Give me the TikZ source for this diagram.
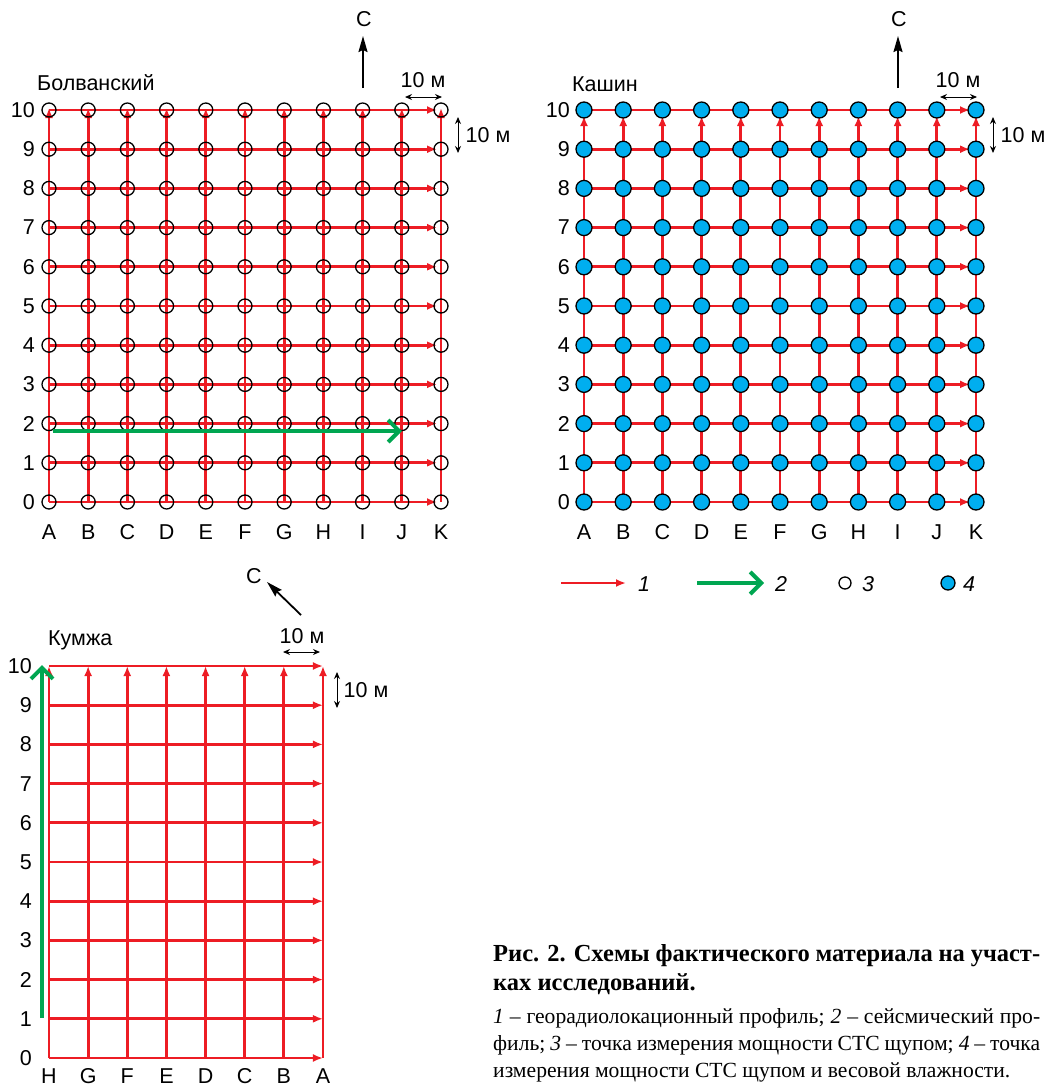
\documentclass[tikz,border=0pt]{standalone}
\usepackage{fontspec}
\setmainfont{Liberation Sans}
\newfontfamily\capfont{Liberation Serif}
\usetikzlibrary{arrows.meta}
\definecolor{gridred}{HTML}{ED1C24}
\definecolor{seisgreen}{HTML}{00A651}
\definecolor{dotblue}{HTML}{00AEEF}
\tikzset{
  redline/.style={draw=gridred, line width=2.8pt, -{Latex[length=10pt,width=8pt]}},
  hollowpt/.style={circle, draw=black, line width=1.3pt, minimum size=14pt, inner sep=0pt},
  bluept/.style={circle, draw=black, fill=dotblue, line width=1.3pt, minimum size=16pt, inner sep=0pt},
  lbl/.style={font=\fontsize{21.5}{24}\selectfont, inner sep=0pt},
  greenarrow/.style={draw=seisgreen, line width=4pt, -{Straight Barb[length=11pt,width=22pt]}},
  northarrow/.style={draw=black, line width=1.8pt, -{Stealth[length=16pt,width=9pt,inset=2pt]}},
  scalebar/.style={draw=black, line width=1pt, {Stealth[length=7pt,width=6pt]}-{Stealth[length=7pt,width=6pt]}},
  capbold/.style={font=\capfont\bfseries\fontsize{24.5}{28}\selectfont, inner sep=0pt, anchor=base west},
  capreg/.style={font=\capfont\fontsize{21.6}{26}\selectfont, inner sep=0pt, anchor=base west}
}
\begin{document}
\begin{tikzpicture}[x=1pt,y=-1pt]
\useasboundingbox (0,0) rectangle (1048,1087);

% ================= Bolvansky =================
\foreach \i in {0,...,10}{
  \foreach \j in {0,...,10}{
    \coordinate (b-\i-\j) at ({49+39.2*\i},{502-39.2*\j});
  }
}
\foreach \j in {0,...,10}{
  \draw[redline, shorten >=4pt] (b-0-\j) -- (b-10-\j);
}
\foreach \i in {0,...,10}{
  \draw[redline, shorten >=-2pt] (b-\i-0) -- (b-\i-10);
}
\foreach \i in {0,...,10}{
  \foreach \j in {0,...,10}{
    \node[hollowpt] (bp-\i-\j) at (b-\i-\j) {};
  }
}
\foreach \j in {0,...,10}{
  \node[lbl, anchor=east] (brow-\j) at (35,{502-39.2*\j}) {\j};
}
\foreach \l [count=\c from 0] in {A,B,C,D,E,F,G,H,I,J,K}{
  \node[lbl] (bcol-\c) at ({49+39.2*\c},532) {\l};
}
\node[lbl, anchor=west] (bname) at (37,83) {Болванский};
\coordinate (bgs) at (53,431);
\coordinate (bge) at (402,431);
\draw[greenarrow] (bgs) -- (bge);
% north
\coordinate (bn1) at (363,88);
\coordinate (bn2) at (363,36);
\draw[northarrow] (bn1) -- (bn2);
\node[lbl] (bnC) at (364,19) {С};
% scale bars
\coordinate (bs1) at (405,97); \coordinate (bs2) at (442,97);
\draw[scalebar] (bs1) -- (bs2);
\node[lbl] (bsh) at (423,80) {10 м};
\coordinate (bs3) at (458,117); \coordinate (bs4) at (458,153);
\draw[scalebar] (bs3) -- (bs4);
\node[lbl] (bsv) at (488,135) {10 м};

% ================= Kashin =================
\foreach \i in {0,...,10}{
  \foreach \j in {0,...,10}{
    \coordinate (k-\i-\j) at ({584+39.2*\i},{502-39.2*\j});
  }
}
\foreach \j in {0,...,10}{
  \draw[redline, shorten >=6pt] (k-0-\j) -- (k-10-\j);
}
\foreach \i in {0,...,10}{
  \draw[redline, shorten >=6pt] (k-\i-0) -- (k-\i-10);
}
\foreach \i in {0,...,10}{
  \foreach \j in {0,...,10}{
    \node[bluept] (kp-\i-\j) at (k-\i-\j) {};
  }
}
\foreach \j in {0,...,10}{
  \node[lbl, anchor=east] (krow-\j) at (570,{502-39.2*\j}) {\j};
}
\foreach \l [count=\c from 0] in {A,B,C,D,E,F,G,H,I,J,K}{
  \node[lbl] (kcol-\c) at ({584+39.2*\c},532) {\l};
}
\node[lbl, anchor=west] (kname) at (572,84) {Кашин};
\coordinate (kn1) at (898,88);
\coordinate (kn2) at (898,36);
\draw[northarrow] (kn1) -- (kn2);
\node[lbl] (knC) at (899,19) {С};
\coordinate (ks1) at (940,97); \coordinate (ks2) at (977,97);
\draw[scalebar] (ks1) -- (ks2);
\node[lbl] (ksh) at (958,80) {10 м};
\coordinate (ks3) at (993,117); \coordinate (ks4) at (993,153);
\draw[scalebar] (ks3) -- (ks4);
\node[lbl] (ksv) at (1023,135) {10 м};

% ================= Legend =================
\coordinate (l1a) at (561,583); \coordinate (l1b) at (626,583);
\draw[redline, line width=2pt] (l1a) -- (l1b);
\node[lbl, font=\fontsize{21.5}{24}\selectfont\itshape] (l1t) at (644,584) {1};
\coordinate (l2a) at (697,583); \coordinate (l2b) at (764,583);
\draw[greenarrow] (l2a) -- (l2b);
\node[lbl, font=\fontsize{21.5}{24}\selectfont\itshape] (l2t) at (781,584) {2};
\node[hollowpt, minimum size=12pt] (l3c) at (845,583) {};
\node[lbl, font=\fontsize{21.5}{24}\selectfont\itshape] (l3t) at (868,584) {3};
\node[bluept, minimum size=14pt] (l4c) at (948,583) {};
\node[lbl, font=\fontsize{21.5}{24}\selectfont\itshape] (l4t) at (969,584) {4};

% ================= Kumzha =================
\foreach \i in {0,...,7}{
  \foreach \j in {0,...,10}{
    \coordinate (m-\i-\j) at ({49+39.14*\i},{1058-39.2*\j});
  }
}
\foreach \j in {0,...,10}{
  \draw[redline] (m-0-\j) -- (m-7-\j);
}
\foreach \i in {0,...,7}{
  \draw[redline] (m-\i-0) -- (m-\i-10);
}
\foreach \j in {0,...,10}{
  \node[lbl, anchor=east] (mrow-\j) at (32,{1058-39.2*\j}) {\j};
}
\foreach \l [count=\c from 0] in {H,G,F,E,D,C,B,A}{
  \node[lbl, anchor=base] (mcol-\c) at ({49+39.14*\c},1083) {\l};
}
\node[lbl, anchor=west] (mname) at (48,640) {Кумжа};
\coordinate (mgs) at (42,1018);
\coordinate (mge) at (42,665);
\draw[greenarrow] (mgs) -- (mge);
\coordinate (mn1) at (301,615);
\coordinate (mn2) at (267,582);
\draw[northarrow] (mn1) -- (mn2);
\node[lbl] (mnC) at (254,576) {С};
\coordinate (ms1) at (283,652); \coordinate (ms2) at (320,652);
\draw[scalebar] (ms1) -- (ms2);
\node[lbl] (msh) at (302,636) {10 м};
\coordinate (ms3) at (337,672); \coordinate (ms4) at (337,708);
\draw[scalebar] (ms3) -- (ms4);
\node[lbl] (msv) at (366,690) {10 м};

% ================= Caption =================
\node[capbold] (cap1) at (493,961) {\makebox[547pt][s]{Рис. 2. Схемы фактического материала на участ-}};
\node[capbold] (cap2) at (493,990) {ках исследований.};
\node[capreg] (cap3) at (493,1023) {\makebox[547pt][s]{\textit{1} – георадиолокационный профиль; \textit{2} – сейсмический про-}};
\node[capreg] (cap4) at (493,1050) {\makebox[547pt][s]{филь; \textit{3} – точка измерения мощности СТС щупом; \textit{4} – точка}};
\node[capreg] (cap5) at (493,1077) {измерения мощности СТС щупом и весовой влажности.};
\end{tikzpicture}
\end{document}
